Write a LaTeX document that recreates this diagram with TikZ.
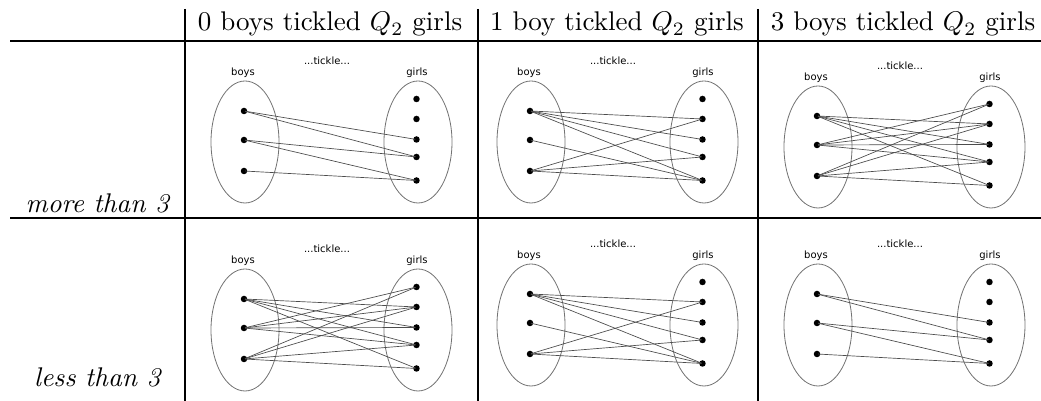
\documentclass[tikz,border=0pt]{standalone}
\usepackage{amsmath}
\usepackage{fontspec}
\newfontfamily\labelfont{DejaVu Sans}

\begin{document}
\begin{tikzpicture}[x=0.37pt,y=-0.37pt,
	rule/.style={line width=0.4pt},
	ring/.style={draw=black!55,line width=0.3pt},
	dot/.style={circle,fill=black,inner sep=0pt,minimum size=2.4pt},
	tickle/.style={draw=black!70,line width=0.25pt,shorten <=-1pt,shorten >=-1pt},
	tag/.style={font=\labelfont\fontsize{3.7}{4}\selectfont,inner sep=0pt}]
	\useasboundingbox (0,0) rectangle (1041,401);
	% table rules
	\draw[rule] (10,41) -- (1041,41);
	\draw[rule] (10,218) -- (1041,218);
	\foreach \x in {185,478,758}
		\draw[rule] (\x,9) -- (\x,401);
	% column and row heads
	\node[anchor=base] (zero) at (330,31) {0 boys tickled $Q_2$ girls};
	\node[anchor=base] (one) at (617,31) {1 boy tickled $Q_2$ girls};
	\node[anchor=base] (three) at (903,31) {3 boys tickled $Q_2$ girls};
	\node[anchor=base] (more) at (98,213) {\textit{more than 3}};
	\node[anchor=base] (less) at (98,387) {\textit{less than 3}};
	% the six panels: boys b1..b3, girls g1..g5
	\foreach \p/\cx/\cy/\pairs in {
		1/245/142/{1/3,1/4,2/4,2/5,3/5},
		2/531/142/{1/2,1/3,1/4,1/5,2/5,3/2,3/4,3/5},
		3/818/147/{1/2,1/3,1/4,1/5,2/1,2/2,2/3,2/4,3/1,3/2,3/4,3/5},
		4/245/330/{1/2,1/3,1/4,1/5,2/1,2/2,2/3,2/4,3/1,3/2,3/4,3/5},
		5/531/325/{1/2,1/3,1/4,1/5,2/5,3/2,3/4,3/5},
		6/818/325/{1/3,1/4,2/4,2/5,3/5}}{
		\begin{scope}[shift={(\cx,\cy)}]
			\draw[ring] (0,0) ellipse [x radius=34,y radius=61];
			\draw[ring] (173,0) ellipse [x radius=34,y radius=61];
			\node[tag] (p\p-boys) at (-2,-69) {boys};
			\node[tag] (p\p-girls) at (172,-69) {girls};
			\node[tag] (p\p-tickle) at (82,-81) {...tickle...};
			\foreach \i/\y in {1/-31,2/-2,3/29}
				\node[dot] (p\p-b\i) at (-1,\y) {};
			\foreach \i/\y in {1/-43,2/-23,3/-2.5,4/15,5/38.5}
				\node[dot] (p\p-g\i) at (171.5,\y) {};
			\foreach \b/\g in \pairs
				\draw[tickle] (p\p-b\b) -- (p\p-g\g);
		\end{scope}
	}
\end{tikzpicture}
\end{document}
